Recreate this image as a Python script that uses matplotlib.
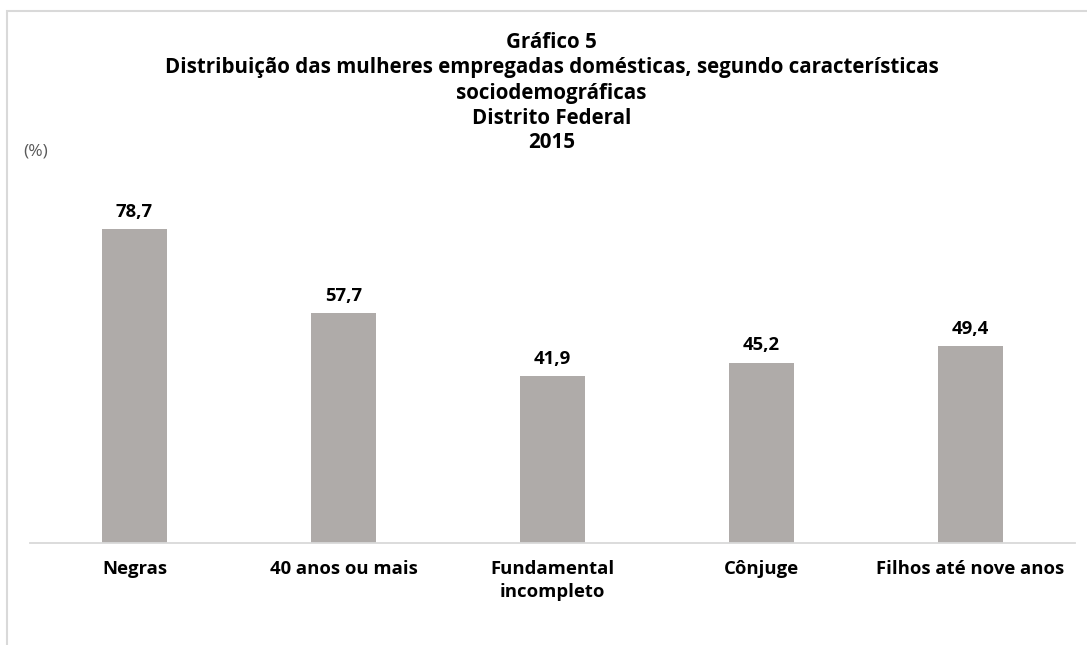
import matplotlib
matplotlib.use("Agg")
import matplotlib.pyplot as plt
from matplotlib.patches import Rectangle

categories = ["Negras", "40 anos ou mais", "Fundamental\nincompleto", "Cônjuge", "Filhos até nove anos"]
values = [78.7, 57.7, 41.9, 45.2, 49.4]
value_labels = ["78,7", "57,7", "41,9", "45,2", "49,4"]
title_lines = ["Gráfico 5",
               "Distribuição das mulheres empregadas domésticas, segundo características",
               "sociodemográficas",
               "Distrito Federal",
               "2015"]

W, H = 1087, 645
plt.rcParams['font.family'] = ['Open Sans', 'DejaVu Sans']
fig = plt.figure(figsize=(W / 100, H / 100), dpi=100)

# outer frame
fig.patches.append(Rectangle((7 / W, -0.2), 1.3, (H - 11.5) / H + 0.2,
                             transform=fig.transFigure, fill=False,
                             edgecolor="#D9D9D9", linewidth=1.5, clip_on=False))

ax = fig.add_axes([30 / W, 102 / H, 1045 / W, 359 / H])
x = list(range(len(categories)))
ax.bar(x, values, width=0.311, color="#AFABA9")
ax.set_xlim(-0.5, len(categories) - 0.5)
ax.set_ylim(0, 90)
for xi, v, lab in zip(x, values, value_labels):
    ax.annotate(lab, (xi, v), xytext=(0, 6), textcoords="offset points",
                ha="center", va="bottom", fontsize=13.3, fontweight="bold", color="#000000")
ax.set_xticks(x)
ax.set_xticklabels(categories, fontsize=13.3, fontweight="bold", linespacing=1.35)
ax.tick_params(axis="x", length=0, pad=12)
ax.set_yticks([])
for s in ["top", "right", "left"]:
    ax.spines[s].set_visible(False)
ax.spines["bottom"].set_color("#D9D9D9")
ax.spines["bottom"].set_linewidth(1.3)

ys = [42, 67.5, 93, 118, 143]
for t, y in zip(title_lines, ys):
    fig.text(551.5 / W, 1 - y / H, t, ha="center", va="center",
             fontsize=14.8, fontweight="bold", color="#000000")

fig.text(23 / W, 1 - 152 / H, "(%)", ha="left", va="center", fontsize=12.5, color="#595959")

fig.savefig("out.png", dpi=100)
